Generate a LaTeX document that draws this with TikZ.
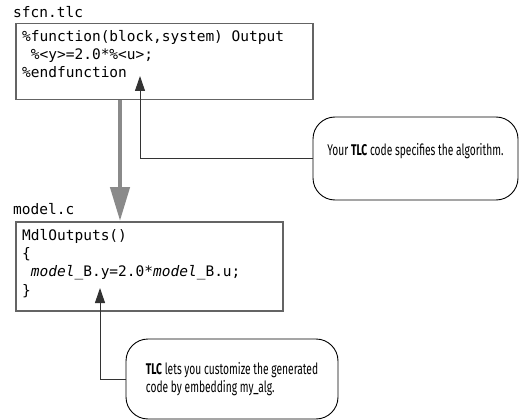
\documentclass[tikz,border=0pt]{standalone}
\usepackage{fontspec}
\setmonofont{DejaVu Sans Mono}
\newfontfamily\calloutfont[FakeStretch=0.66]{Fira Sans}
\usetikzlibrary{arrows.meta}
\definecolor{boxgray}{RGB}{100,100,100}
\definecolor{flowgray}{RGB}{138,138,138}
\tikzset{
  codebox/.style={draw=boxgray,line width=1.5pt,anchor=north west,inner sep=0pt},
  code/.style={font=\ttfamily\fontsize{14.5}{18.3}\selectfont,align=left,inner sep=0pt},
  callout/.style={draw,line width=0.9pt,rounded corners=22pt,
    font=\calloutfont\fontsize{15.5}{17.5}\selectfont,align=left},
  pointer/.style={draw=black!80,line width=1pt,-{Triangle[length=15pt,width=10pt]}},
  flow/.style={draw=flowgray,line width=4.5pt,-{Triangle[length=34pt,width=19pt]}}
}
\begin{document}
\begin{tikzpicture}[x=1pt,y=-1pt]
      \useasboundingbox (0,0) rectangle (520,420);
      % the two code boxes
      \node[code,anchor=base west] (tlcname) at (13,18) {sfcn.tlc};
      \node[codebox,minimum width=297pt,minimum height=76pt] (tlc) at (15,23) {};
      \node[code,anchor=north west] (tlccode) at (22,30)
        {\%function(block,system) Output\\
         ~\%<y>=2.0*\%<u>;\\
         \%endfunction};
      \node[code,anchor=base west] (cname) at (13,214) {model.c};
      \node[codebox,minimum width=267pt,minimum height=89pt] (modelc) at (15,221) {};
      \node[code,anchor=north west] (ccode) at (22,229)
        {MdlOutputs()\\
         \{\\
         ~\textit{model}\_B.y=2.0*\textit{model}\_B.u;\\
         \}};
      % the two callouts
      \node[callout,minimum width=205pt,minimum height=83pt,text depth=18pt] (spec) at (415.5,158.5)
        {Your \textbf{TLC} code specifies the algorithm.};
      \node[callout,minimum width=212pt,minimum height=80pt] (cust) at (232,379)
        {\textbf{TLC} lets you customize the generated\\code by embedding my\_alg.};
      \coordinate (upin) at (140,76);
      \coordinate (ypin) at (100,288);
      \begin{scope}
        \draw[flow] ([xshift=105pt]tlc.south west) -- ([xshift=105pt]modelc.north west);
        \draw[pointer] (spec.west) -| (upin);
        \draw[pointer] (cust.west) -| (ypin);
      \end{scope}
    \end{tikzpicture}
\end{document}
